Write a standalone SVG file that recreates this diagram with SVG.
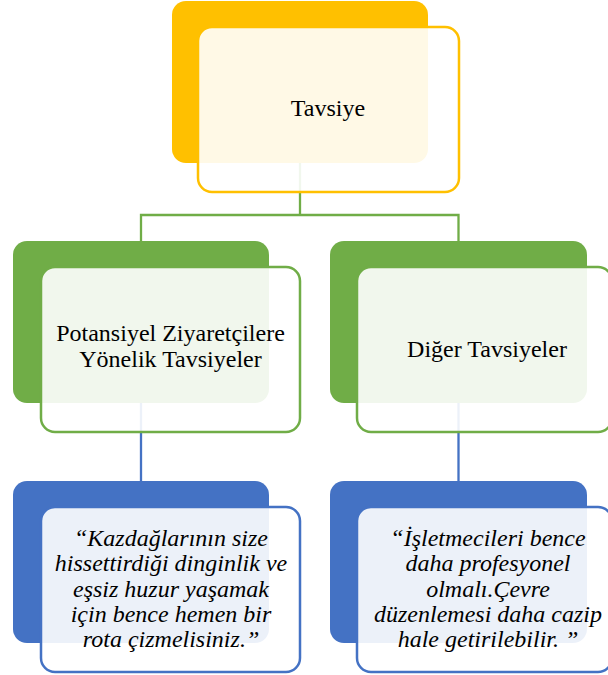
<svg xmlns="http://www.w3.org/2000/svg" width="608" height="675" viewBox="0 0 608 675">
<style>
.t{font-family:"Liberation Serif","Times New Roman",serif;font-size:24px;fill:#000;text-anchor:middle}
.i{font-style:italic}
.front{fill:#fff;fill-opacity:0.9;stroke-width:2.5}
.cg{stroke:#70AD47;stroke-width:2.3;fill:none}
.cb{stroke:#4472C4;stroke-width:2.3;fill:none}
</style>
<rect width="608" height="675" fill="#fff"/>
<g id="connectors">
<path class="cg" d="M300 163 V215 M141 241 V215 H458.5 V241"/>
<path class="cb" d="M141 403 V481 M458.5 403 V481"/>
</g>
<g id="n-tavsiye">
<rect x="172" y="1" width="256" height="162" rx="14" fill="#FFC000"/>
<rect class="front" x="198" y="27" width="261" height="165" rx="14" stroke="#FFC000"/>
<text class="t" x="328" y="116">Tavsiye</text>
</g>
<g id="n-potansiyel">
<rect x="13" y="241" width="256" height="162" rx="14" fill="#70AD47"/>
<rect class="front" x="41" y="267" width="259" height="165" rx="14" stroke="#70AD47"/>
<text class="t" x="170.5" y="341">Potansiyel Ziyaretçilere</text>
<text class="t" x="170.5" y="367">Yönelik Tavsiyeler</text>
</g>
<g id="n-diger">
<rect x="330" y="241" width="257" height="162" rx="14" fill="#70AD47"/>
<rect class="front" x="357" y="267" width="255" height="165" rx="14" stroke="#70AD47"/>
<text class="t" x="487" y="357">Diğer Tavsiyeler</text>
</g>
<g id="n-alinti1">
<rect x="13" y="481" width="256" height="162" rx="14" fill="#4472C4"/>
<rect class="front" x="41" y="507" width="259" height="165" rx="14" stroke="#4472C4"/>
<text class="t i" x="171" y="546">“Kazdağlarının size</text>
<text class="t i" x="171" y="571">hissettirdiği dinginlik ve</text>
<text class="t i" x="171" y="597">eşsiz huzur yaşamak</text>
<text class="t i" x="171" y="622">için bence hemen bir</text>
<text class="t i" x="171" y="647">rota çizmelisiniz.”</text>
</g>
<g id="n-alinti2">
<rect x="330" y="481" width="257" height="162" rx="14" fill="#4472C4"/>
<rect class="front" x="357" y="507" width="255" height="165" rx="14" stroke="#4472C4"/>
<text class="t i" x="488" y="546">“İşletmecileri bence</text>
<text class="t i" x="488" y="571">daha profesyonel</text>
<text class="t i" x="488" y="597">olmalı.Çevre</text>
<text class="t i" x="488" y="622">düzenlemesi daha cazip</text>
<text class="t i" x="488" y="647">hale getirilebilir. ”</text>
</g>
</svg>
